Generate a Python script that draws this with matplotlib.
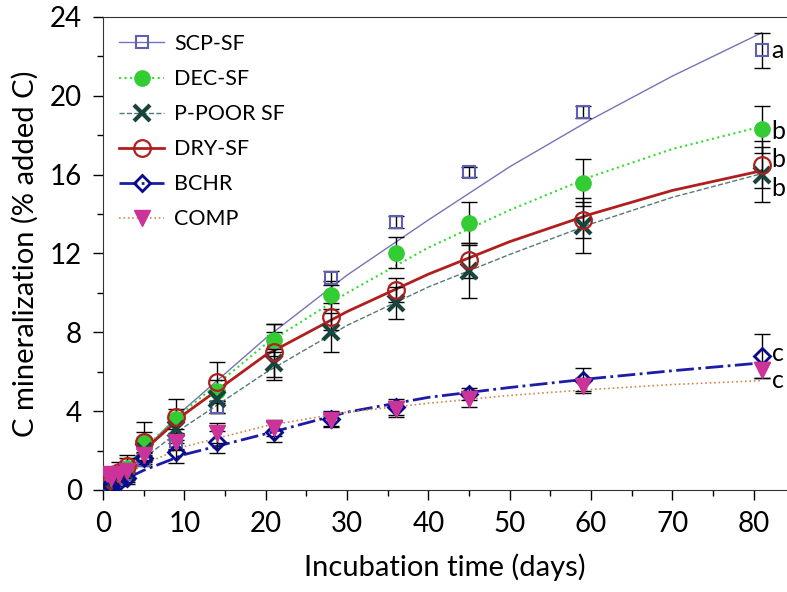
import numpy as np
import matplotlib.pyplot as plt
from matplotlib.lines import Line2D
from matplotlib.ticker import MultipleLocator

plt.rcParams['font.family'] = ['Lato', 'DejaVu Sans']

# measured points (days, % added C) and standard errors
days = [0.5, 1, 2, 3, 5, 9, 14, 21, 28, 36, 45, 59, 81]
scp = [0.2, 0.4, 0.6, 0.8, 1.5, 2.5, 4.2, 7.5, 10.75, 13.6, 16.15, 19.2, 22.3]
scp_err = [0.1, 0.2, 0.2, 0.3, 0.3, 0.4, 0.3, 0.5, 0.35, 0.3, 0.25, 0.3, 0.9]
dec = [0.3, 0.5, 0.8, 1.1, 2.45, 3.6, 5.0, 7.6, 9.9, 12.05, 13.57, 15.6, 18.3]
dec_err = [0.2, 0.3, 0.4, 0.5, 0.5, 0.5, 0.6, 0.8, 0.7, 0.8, 1.05, 1.2, 1.2]
ppoor = [0.2, 0.4, 0.7, 0.9, 2.0, 3.1, 4.6, 6.45, 8.0, 9.5, 11.1, 13.4, 16.0]
ppoor_err = [0.2, 0.3, 0.4, 0.5, 0.6, 0.7, 0.7, 0.7, 1.0, 0.8, 1.35, 1.4, 1.4]
dry = [0.25, 0.5, 0.9, 1.2, 2.45, 3.7, 5.5, 7.0, 8.8, 10.15, 11.65, 13.7, 16.5]
dry_err = [0.2, 0.3, 0.5, 0.6, 1.0, 0.9, 1.0, 1.4, 0.7, 0.6, 0.9, 0.9, 1.2]
bchr = [0.1, 0.2, 0.4, 0.6, 1.6, 1.95, 2.45, 2.95, 3.6, 4.2, 4.85, 5.6, 6.8]
bchr_err = [0.1, 0.2, 0.2, 0.3, 0.3, 0.6, 0.55, 0.5, 0.4, 0.4, 0.3, 0.6, 1.1]
comp = [0.8, 0.6, 0.8, 0.95, 1.8, 2.45, 2.9, 3.15, 3.55, 4.1, 4.6, 5.3, 6.1]
comp_err = [0.2, 0.2, 0.3, 0.3, 0.3, 0.4, 0.5, 0.4, 0.3, 0.4, 0.4, 0.4, 0.4]

# fitted curves
fit_days = [0, 5, 10, 20, 30, 40, 50, 60, 70, 81]
scp_fit = [0, 2.0, 4.1, 7.7, 10.9, 13.7, 16.4, 18.8, 21.0, 23.2]
dec_fit = [0, 2.1, 4.0, 7.4, 10.0, 12.3, 14.2, 15.9, 17.3, 18.45]
ppoor_fit = [0, 1.6, 3.2, 5.95, 8.35, 10.3, 11.95, 13.5, 14.85, 16.05]
dry_fit = [0, 2.0, 3.85, 6.85, 9.05, 10.95, 12.6, 14.0, 15.2, 16.2]
bchr_fit = [0, 1.0, 1.8, 2.85, 3.95, 4.7, 5.2, 5.65, 6.05, 6.45]
comp_fit = [0, 1.3, 2.2, 3.25, 3.95, 4.4, 4.8, 5.1, 5.35, 5.55]

names = ['SCP-SF', 'DEC-SF', 'P-POOR SF', 'DRY-SF', 'BCHR', 'COMP']
letters = ['a', 'b', 'b', 'b', 'c', 'c']
letter_y = [22.3, 18.2, 16.75, 15.3, 6.95, 5.55]

series = [
    (scp, scp_err, scp_fit, dict(color='#7474B8', ls='-', lw=1.0),
     dict(marker='s', mfc='none', mec='#5F5FAF', ms=9, mew=1.5)),
    (dec, dec_err, dec_fit, dict(color='#33DD33', ls=':', lw=1.5),
     dict(marker='o', mfc='#33CC33', mec='#33CC33', ms=11)),
    (ppoor, ppoor_err, ppoor_fit, dict(color='#557A77', ls='--', lw=1.0),
     dict(marker='x', mfc='none', mec='#17443C', ms=11, mew=3)),
    (dry, dry_err, dry_fit, dict(color='#B01E1E', ls='-', lw=2.0),
     dict(marker='o', mfc='none', mec='#B01E1E', ms=12, mew=1.6)),
    (bchr, bchr_err, bchr_fit, dict(color='#1C1CA8', ls='-.', lw=2.0),
     dict(marker='D', mfc='none', mec='#0A0A8C', ms=8, mew=2)),
    (comp, comp_err, comp_fit, dict(color='#D08A50', ls=':', lw=1.2),
     dict(marker='v', mfc='#CC3399', mec='#CC3399', ms=11)),
]

fig = plt.figure(figsize=(7.87, 5.92), dpi=100)
ax = fig.add_axes([0.1309, 0.1723, 0.8691, 0.799])

handles = []
for vals, err, fit, lst, mst in series:
    ax.plot(fit_days, fit, zorder=2, **lst)
    ax.errorbar(days, vals, yerr=err, fmt='none', ecolor='black',
                elinewidth=1, capsize=6, capthick=1, zorder=3)
    ax.plot(days, vals, ls='none', zorder=4, **mst)
    handles.append(Line2D([], [], **lst, **mst))

for lab, yv in zip(letters, letter_y):
    ax.text(82.2, yv, lab, fontsize=18, va='center', ha='left')

ax.legend(handles, names, loc='upper left', bbox_to_anchor=(-0.005, 1.005),
          frameon=False, fontsize=15.5, handlelength=2.1, labelspacing=0.7,
          handletextpad=0.45)

ax.set_xlim(0, 84.1)
ax.set_ylim(0, 24)
ax.xaxis.set_major_locator(MultipleLocator(10))
ax.xaxis.set_minor_locator(MultipleLocator(5))
ax.yaxis.set_major_locator(MultipleLocator(4))
ax.yaxis.set_minor_locator(MultipleLocator(2))
ax.tick_params(which='major', direction='out', length=7, width=1,
               labelsize=20, pad=8)
ax.tick_params(which='minor', direction='out', length=4, width=1)
ax.spines['right'].set_visible(False)
for s in ['left', 'bottom', 'top']:
    ax.spines[s].set_color('#333333')

ax.set_xlabel('Incubation time (days)', fontsize=21, labelpad=12)
ax.set_ylabel('C mineralization (% added C)', fontsize=21, labelpad=8)

fig.savefig('out.png', dpi=100)
